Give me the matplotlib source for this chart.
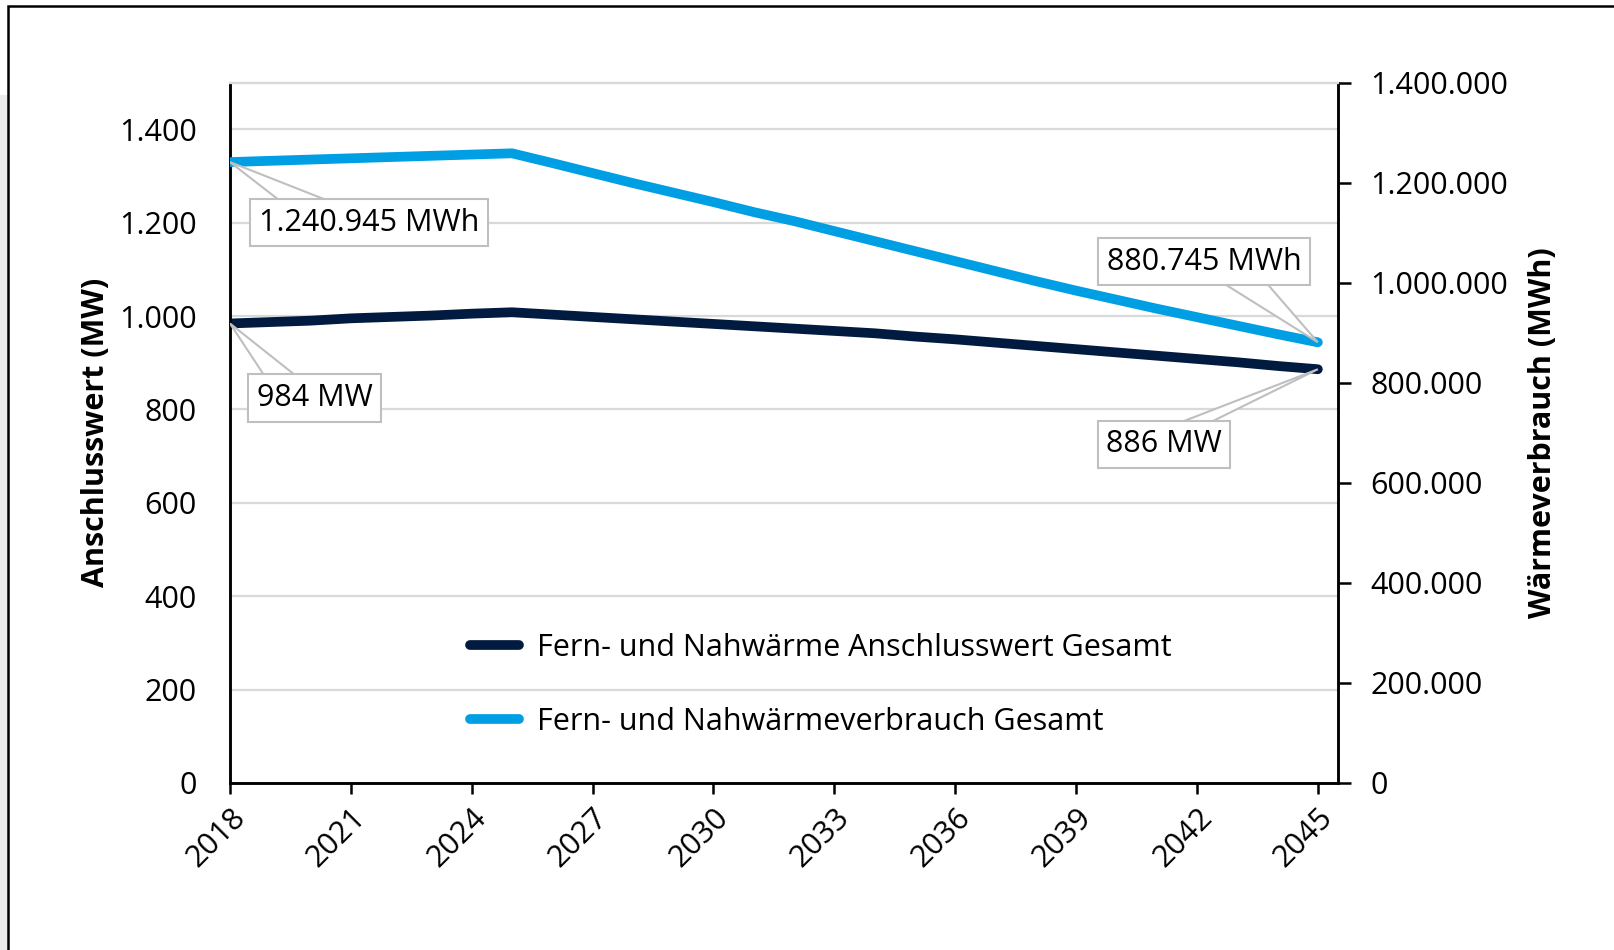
import matplotlib.pyplot as plt
from matplotlib.patches import Rectangle, Polygon
from matplotlib.lines import Line2D
from matplotlib.ticker import FuncFormatter

plt.rcParams['font.family'] = ['Open Sans', 'DejaVu Sans']

# Daten
years = list(range(2018, 2046))
anschlusswert_mw = [984, 987, 990, 995, 998, 1001, 1005, 1008, 1003, 998, 993, 988,
                    983, 978, 973, 968, 963, 956, 950, 943, 936, 929, 922, 915,
                    908, 901, 893, 886]
verbrauch_mwh = [1240945, 1243500, 1246000, 1248500, 1251000, 1253500, 1256000, 1258500,
                 1239000, 1219000, 1199000, 1180000, 1161000, 1141000, 1123000, 1103000,
                 1083000, 1063000, 1043000, 1023000, 1003000, 984000, 966000, 948000,
                 931000, 914000, 897000, 880745]
xticks = list(range(2018, 2046, 3))
label_mw = 'Fern- und Nahwärme Anschlusswert Gesamt'
label_mwh = 'Fern- und Nahwärmeverbrauch Gesamt'

c_dark = '#011a40'
c_light = '#009fe3'
c_grid = '#d9d9d9'
c_box = '#bfbfbf'
fs = 22


def de_fmt(v, pos=None):
    return f'{int(round(v)):,}'.replace(',', '.')


fig = plt.figure(figsize=(16.15, 9.5), dpi=100)

# Rahmen wie im Original
fig.patches.append(Rectangle((0, 0), 8 / 1615, 1 - 95 / 950, transform=fig.transFigure,
                             facecolor='#ebebeb', edgecolor='none', zorder=0))
fig.patches.append(Rectangle((8 / 1615, -0.1), 1.2, 1.1 - 6 / 950, transform=fig.transFigure,
                             facecolor='none', edgecolor='black', lw=1.8, zorder=1))

ax = fig.add_axes([230 / 1615, 1 - 783 / 950, 1108 / 1615, 700.5 / 950])
ax.set_facecolor('none')
ax2 = ax.twinx()

ax.plot(years, anschlusswert_mw, color=c_dark, lw=7, solid_capstyle='round', zorder=3)
ax2.plot(years, verbrauch_mwh, color=c_light, lw=7, solid_capstyle='round', zorder=3)

ax.set_xlim(2018, 2045.5)
ax.set_ylim(0, 1500)
ax.set_yticks(range(0, 1401, 200))
ax2.set_ylim(0, 1400000)
ax2.set_yticks(range(0, 1400001, 200000))
ax.set_xticks(xticks)
ax.set_xticklabels([str(y) for y in xticks], rotation=45, ha='right', rotation_mode='anchor')

ax.yaxis.set_major_formatter(FuncFormatter(de_fmt))
ax2.yaxis.set_major_formatter(FuncFormatter(de_fmt))

ax.grid(axis='y', color=c_grid, lw=1.6)
ax.set_axisbelow(True)

for a in (ax, ax2):
    a.spines['top'].set_color(c_grid)
    a.spines['top'].set_linewidth(1.6)
    for s in ('left', 'right', 'bottom'):
        a.spines[s].set_linewidth(1.8)
        a.spines[s].set_color('black')

ax.tick_params(axis='y', length=0, pad=24, labelsize=fs)
ax.tick_params(axis='x', length=8, width=1.8, direction='out', pad=6, labelsize=fs)
ax2.tick_params(axis='y', length=9.5, width=1.8, direction='out', pad=14, labelsize=fs)

ax.set_ylabel('Anschlusswert (MW)', fontsize=fs, fontweight='bold', labelpad=6)
ax2.set_ylabel('Wärmeverbrauch (MWh)', fontsize=fs, fontweight='bold', labelpad=14, rotation=90)


# Callouts: Box + Keil vom Boxrand zum Datenpunkt
def callout(src_ax, text, xy, pos, base_x, base_y, inward):
    tip = ax2.transAxes.inverted().transform(src_ax.transData.transform(xy))
    poly = Polygon([tip, (base_x[0], base_y + inward), (base_x[1], base_y + inward)],
                   closed=True, transform=ax2.transAxes, fc='white', ec=c_box, lw=1.5,
                   zorder=4, joinstyle='miter')
    ax2.add_patch(poly)
    ax2.text(pos[0], pos[1], text, transform=ax2.transAxes, ha='center', va='center',
             fontsize=fs, zorder=6,
             bbox=dict(boxstyle='square,pad=0.28', fc='white', ec=c_box, lw=1.5))


callout(ax2, de_fmt(verbrauch_mwh[0]) + ' MWh', (years[0], verbrauch_mwh[0]),
        (0.1255, 0.800), (0.0512, 0.1008), 0.8356, -0.012)
callout(ax2, de_fmt(verbrauch_mwh[-1]) + ' MWh', (years[-1], verbrauch_mwh[-1]),
        (0.879, 0.744), (0.8845, 0.9291), 0.7134, 0.012)
callout(ax, f'{anschlusswert_mw[0]} MW', (years[0], anschlusswert_mw[0]),
        (0.0765, 0.5496), (0.0346, 0.0662), 0.5849, -0.012)
callout(ax, f'{anschlusswert_mw[-1]} MW', (years[-1], anschlusswert_mw[-1]),
        (0.843, 0.4835), (0.8454, 0.8749), 0.5192, -0.012)

handles = [Line2D([], [], color=c_dark, lw=7, solid_capstyle='round'),
           Line2D([], [], color=c_light, lw=7, solid_capstyle='round')]
leg = ax2.legend(handles, [label_mw, label_mwh], loc='center left', bbox_to_anchor=(0.192, 0.14),
                 frameon=False, fontsize=fs, handlelength=1.6, handletextpad=0.6,
                 labelspacing=1.45)
leg.set_zorder(7)

fig.savefig('out.png', dpi=100)
